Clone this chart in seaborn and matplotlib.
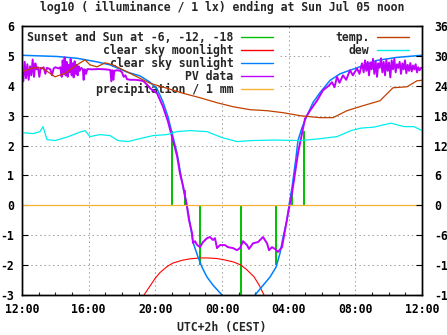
import numpy as np
import pandas as pd
import matplotlib
matplotlib.use("Agg")
import matplotlib.pyplot as plt
import seaborn as sns
from matplotlib.lines import Line2D
from matplotlib.ticker import MultipleLocator, FixedLocator

# ---------------- data (hours after 12:00 Jul 04) ----------------
sunset_t = [9.0, 9.78, 10.68, 13.14, 15.24, 16.2, 16.92]
sunset_h = [2.5, 0.5, -2.0, -3.0, -2.0, 0.5, 2.5]

moon_t = [7.25, 7.32, 7.68, 7.98, 8.28, 8.7, 9.06, 9.6, 10.08, 10.68, 11.1, 11.7,
          12.12, 12.72, 13.14, 13.5, 13.92, 14.22, 14.52, 14.6]
moon_v = [-3.2, -3.0, -2.7, -2.45, -2.25, -2.05, -1.93, -1.84, -1.79, -1.76, -1.76, -1.78,
          -1.82, -1.9, -2.0, -2.16, -2.39, -2.66, -3.0, -3.2]

sun_t = [0, 2.1, 3.3, 4.5, 5.28, 6.3, 7.08, 7.68, 8.1, 8.46, 8.76, 9.06, 9.3, 9.48, 9.66,
         9.9, 10.08, 10.26, 10.56, 10.8, 11.1, 11.46, 12.0, 12.2, 13.8, 13.98, 14.46, 14.88,
         15.24, 15.48, 15.66, 15.9, 16.02, 16.2, 16.32, 16.44, 16.56, 16.8, 17.1, 17.46,
         17.88, 18.48, 19.08, 19.68, 20.1, 21.3, 22.5, 24.0]
sun_v = [5.02, 4.98, 4.92, 4.8, 4.7, 4.46, 4.33, 4.12, 3.9, 3.46, 2.96, 2.29, 1.75, 1.18, 0.61,
         0.0, -0.6, -1.23, -1.73, -2.07, -2.4, -2.67, -3.0, -3.1, -3.1, -3.0, -2.68, -2.4,
         -2.07, -1.6, -1.07, -0.5, 0.0, 0.6, 1.1, 1.6, 2.17, 2.6, 3.0, 3.44,
         3.77, 4.18, 4.4, 4.52, 4.6, 4.85, 4.95, 5.02]

pv_t = [0.00, 0.08, 0.16, 0.24, 0.32, 0.40, 0.48, 0.56, 0.64, 0.72, 0.80, 0.88, 0.96, 1.04,
        1.12, 1.20, 1.30, 1.40, 1.50, 1.60, 1.70, 1.80, 1.90, 2.00, 2.10, 2.20, 2.30,
        2.38, 2.44, 2.50, 2.56, 2.62, 2.68, 2.74, 2.80, 2.86, 2.92, 2.98, 3.04, 3.10, 3.16,
        3.22, 3.28, 3.34, 3.40, 3.46, 3.55, 3.65, 3.70, 3.76, 3.84, 3.92,
        4.2, 4.6, 5.0, 5.3, 5.36, 5.42, 5.48, 5.54, 5.7, 5.9, 6.0, 6.1, 6.2, 6.3, 6.5, 6.8,
        7.1, 7.3,
        7.56, 7.68, 8.10, 8.46, 8.76, 9.06, 9.30, 9.48, 9.66, 9.90, 10.02, 10.20, 10.26,
        10.38, 10.50, 10.68, 10.86, 11.10, 11.28, 11.46, 11.58, 11.70, 11.88, 12.18, 12.36,
        12.66, 12.90, 13.08, 13.26, 13.50, 13.62, 13.86, 14.16, 14.46, 14.70, 14.82, 15.00,
        15.18, 15.36, 15.60, 15.78, 15.96, 16.20, 16.38, 16.56, 16.80, 16.98, 17.28, 17.70,
        18.06, 18.40, 18.60, 18.75, 18.90, 19.05, 19.26, 19.45, 19.68, 19.85, 20.10, 20.25,
        20.40, 20.50,
        20.58, 20.66, 20.74, 20.82, 20.90, 20.98, 21.06, 21.14, 21.22, 21.30, 21.38, 21.46,
        21.54, 21.62, 21.70, 21.78, 21.86, 21.94, 22.02, 22.10, 22.18, 22.26, 22.34, 22.42,
        22.50, 22.58, 22.66, 22.74, 22.82, 22.90, 22.98, 23.06, 23.14, 23.22, 23.30, 23.38,
        23.46, 23.54, 23.62, 23.70, 23.78, 23.86, 23.94, 24.00]
pv_v = [4.50, 4.15, 4.80, 4.25, 4.72, 4.20, 4.65, 4.35, 4.88, 4.30, 4.75, 4.55, 4.62, 4.30,
        4.60, 4.58, 4.62, 4.40, 4.60, 4.58, 4.55, 4.35, 4.58, 4.62, 4.60, 4.58, 4.62,
        4.30, 4.85, 4.40, 4.95, 4.35, 4.80, 4.30, 4.70, 4.45, 4.90, 4.35, 4.75, 4.28, 4.82,
        4.40, 4.70, 4.35, 4.65, 4.50, 4.60, 4.55, 4.20, 4.55, 4.40, 4.56,
        4.55, 4.56, 4.55, 4.53, 4.15, 4.52, 4.20, 4.50, 4.52, 4.50, 4.45, 4.30, 4.35, 4.22,
        4.20, 4.20, 4.18, 4.15,
        4.00, 3.92, 3.75, 3.30, 2.80, 2.16, 1.66, 1.06, 0.66, -0.05, -0.50, -0.92, -1.26,
        -1.20, -1.32, -1.40, -1.23, -1.10, -1.06, -1.16, -1.10, -1.43, -1.33, -1.33, -1.40,
        -1.43, -1.50, -1.43, -1.20, -1.33, -1.46, -1.27, -1.23, -1.06, -1.27, -1.50, -1.40,
        -1.46, -1.56, -1.40, -0.83, -0.27, 0.40, 1.07, 1.74, 2.40, 2.90, 3.17, 3.50,
        3.85, 4.00, 4.12, 3.95, 4.30, 4.10, 4.35, 4.20, 4.52, 4.35, 4.58, 4.40,
        4.75, 4.45,
        4.85, 4.50, 4.80, 4.35, 4.78, 4.55, 4.90, 4.40, 4.82, 4.30, 4.75, 4.60,
        4.92, 4.45, 4.80, 4.35, 4.86, 4.50, 4.78, 4.28, 4.85, 4.55, 4.90, 4.45,
        4.72, 4.60, 4.80, 4.40, 4.75, 4.55, 4.85, 4.42, 4.70, 4.50, 4.76, 4.48,
        4.68, 4.55, 4.72, 4.45, 4.62, 4.52, 4.60, 4.58]

precip_t = [0.0, 24.0]
precip_v = [0.0, 0.0]

temp_t = [0, 0.66, 1.2, 1.68, 1.98, 2.58, 3.3, 3.78, 4.08, 4.5, 4.98, 5.46, 6.06, 6.66,
          7.68, 8.7, 9.66, 10.68, 11.7, 12.66, 13.68, 14.7, 15.66, 16.68, 17.88, 18.66,
          19.5, 20.46, 21.48, 22.26, 23.1, 23.7, 24.0]
temp_c = [26.8, 27.6, 27.6, 26.5, 25.8, 26.5, 28.2, 29.2, 28.2, 27.8, 28.6, 28.2, 27.2, 26.2,
          24.5, 23.5, 22.5, 21.6, 20.6, 19.8, 19.2, 19.0, 18.6, 18.0, 17.6, 17.6,
          19.0, 20.0, 21.0, 23.6, 23.8, 25.0, 25.1]

dew_t = [0, 0.66, 1.08, 1.26, 1.5, 1.98, 2.7, 3.48, 3.78, 4.08, 4.68, 5.28, 5.76, 6.36,
         7.08, 7.86, 8.7, 9.3, 10.08, 11.1, 12.0, 12.9, 13.74, 15.12, 16.74, 17.94, 18.9,
         19.74, 20.34, 21.12, 22.14, 22.92, 23.52, 24.0]
dew_c = [14.6, 14.4, 14.8, 15.8, 13.2, 13.0, 13.7, 14.7, 15.0, 13.8, 14.2, 14.0, 13.0, 12.8,
         13.4, 14.0, 14.2, 14.8, 15.0, 14.8, 13.6, 12.8, 13.0, 13.1, 13.0, 13.4, 13.8,
         15.0, 15.5, 15.7, 16.5, 15.8, 15.8, 15.0]

xtick_pos = [0, 4, 8, 12, 16, 20, 24]
xtick_labels = ["12:00", "16:00", "20:00", "00:00", "04:00", "08:00", "12:00"]

labels_left = ["Sunset and Sun at -6, -12, -18", "clear sky moonlight", "clear sky sunlight",
               "PV data", "precipitation / 1 mm"]
labels_right = ["temp.", "dew"]

# ---------------- style ----------------
C_GREEN = "#00c000"
C_RED = "#ff0000"
C_BLUE = "#0080ff"
C_PV = "#c000ff"
C_PREC = "#f5b335"
C_TEMP = "#c04000"
C_DEW = "#00eeee"

sns.set_theme(style="white")
plt.rcParams["font.family"] = ["DejaVu Sans Mono"]
plt.rcParams["font.weight"] = "bold"
plt.rcParams["axes.unicode_minus"] = False
FS = 8.3

W, H = 447, 335
fig = plt.figure(figsize=(W / 100, H / 100), dpi=100)
fig.patch.set_facecolor("white")
ax = fig.add_axes([22 / W, (H - 295) / H, 400 / W, 269 / H])
ax.set_facecolor("white")

# series (left axis)
ax.vlines(sunset_t, 0, sunset_h, color=C_GREEN, lw=1.4, zorder=2)
sns.lineplot(x=moon_t, y=moon_v, ax=ax, color=C_RED, lw=0.8, estimator=None, sort=False, zorder=2.1)
sns.lineplot(x=sun_t, y=sun_v, ax=ax, color=C_BLUE, lw=1.1, estimator=None, sort=False, zorder=2.2)
sns.lineplot(x=pv_t, y=pv_v, ax=ax, color=C_PV, lw=1.4, estimator=None, sort=False, zorder=2.3)
sns.lineplot(x=precip_t, y=precip_v, ax=ax, color=C_PREC, lw=0.9, estimator=None, sort=False, zorder=2.4)

ax.set_xlim(0, 24)
ax.set_ylim(-3, 6)
ax.set_xlabel("")
ax.set_ylabel("")

ax2 = ax.twinx()
sns.lineplot(x=temp_t, y=temp_c, ax=ax2, color=C_TEMP, lw=0.9, estimator=None, sort=False)
sns.lineplot(x=dew_t, y=dew_c, ax=ax2, color=C_DEW, lw=0.9, estimator=None, sort=False)
ax2.set_ylim(-18, 36)
ax2.set_xlim(0, 24)
ax2.set_ylabel("")

# grid
ax.set_axisbelow(True)
ax.grid(True, which="major", color="#a0a0a0", linestyle=(0, (1.4, 2.8)), lw=0.75)
ax2.grid(False)

# ticks
ax.xaxis.set_major_locator(FixedLocator(xtick_pos))
ax.set_xticklabels(xtick_labels)
ax.xaxis.set_minor_locator(MultipleLocator(1))
ax.yaxis.set_major_locator(MultipleLocator(1))
ax2.yaxis.set_major_locator(MultipleLocator(6))
ax.tick_params(axis="x", which="major", direction="in", length=4, width=0.8, pad=6,
               labelsize=FS, colors="black", top=False)
ax.tick_params(axis="x", which="minor", direction="in", length=2, width=0.8, bottom=True)
ax.tick_params(axis="y", which="major", direction="in", length=4, width=0.8, pad=5.5,
               labelsize=FS, colors="black", right=False)
ax2.tick_params(axis="y", which="major", direction="in", length=4, width=0.8, pad=9,
                labelsize=FS, colors="black")
for lab in ax.get_xticklabels() + ax.get_yticklabels() + ax2.get_yticklabels():
    lab.set_fontweight("bold")

for a in (ax, ax2):
    for s in a.spines.values():
        s.set_color("black")
        s.set_linewidth(1.0)
        s.set_visible(True)

# legends
hl = [Line2D([], [], color=C_GREEN, lw=1.0), Line2D([], [], color=C_RED, lw=1.0),
      Line2D([], [], color=C_BLUE, lw=1.0), Line2D([], [], color=C_PV, lw=1.0),
      Line2D([], [], color=C_PREC, lw=1.0)]
leg1 = ax.legend(hl, labels_left, loc="upper left", bbox_to_anchor=(0, 1),
                 borderaxespad=0, markerfirst=False, frameon=True, fancybox=False,
                 framealpha=1, edgecolor="none", facecolor="white",
                 prop={"family": "DejaVu Sans Mono", "weight": "bold", "size": FS},
                 handlelength=2.75, handletextpad=0.65, labelspacing=0.0, borderpad=0.45)
leg1.set_zorder(1)
ax.add_artist(leg1)
hr = [Line2D([], [], color=C_TEMP, lw=1.0), Line2D([], [], color=C_DEW, lw=1.0)]
leg2 = ax.legend(hr, labels_right, loc="upper right", bbox_to_anchor=((414 - 22) / 400, 1),
                 borderaxespad=0, markerfirst=False, frameon=True, fancybox=False,
                 framealpha=1, edgecolor="none", facecolor="white",
                 prop={"family": "DejaVu Sans Mono", "weight": "bold", "size": FS},
                 handlelength=2.75, handletextpad=0.65, labelspacing=0.0, borderpad=0.45)
leg2.set_zorder(1)

# title and x label
fig.text(222 / W, 1 - 7.5 / H, "log10 ( illuminance / 1 lx) ending at Sun Jul 05 noon",
         ha="center", va="center", fontsize=FS, fontweight="bold", family="DejaVu Sans Mono")
fig.text(222 / W, 1 - 327.5 / H, "UTC+2h (CEST)", ha="center", va="center",
         fontsize=FS, fontweight="bold", family="DejaVu Sans Mono")

fig.savefig("out.png", dpi=100, facecolor="white")
